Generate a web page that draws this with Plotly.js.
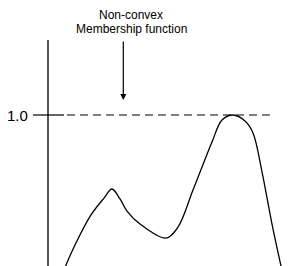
<!DOCTYPE html>
<html>
<head>
<meta charset="utf-8">
<script src="https://cdn.plot.ly/plotly-3.0.1.min.js"></script>
<style>html,body{margin:0;padding:0;background:#fff;}#chart{width:301px;height:266px;}</style>
</head>
<body>
<div id="chart"></div>
<script>
// Membership curve (x: universe of discourse, y: membership degree)
const curveX = [15, 27, 43, 56, 64, 72, 79, 92, 118, 130, 145, 164, 174, 185, 197, 205, 214, 224, 235];
const curveY = [-0.040, 0.139, 0.338, 0.450, 0.510, 0.444, 0.364, 0.278, 0.185, 0.258, 0.503, 0.821, 0.967, 1.0, 0.960, 0.881, 0.623, 0.278, -0.060];
const tickValue = 1.0;
const tickLabel = "1.0";
const titleLines = ["Non-convex", "Membership function"];

const data = [{
  x: curveX, y: curveY, type: 'scatter', mode: 'lines',
  line: {color: '#000', width: 1.3, shape: 'spline', smoothing: 1},
  hoverinfo: 'skip'
}];

const font = {family: 'Liberation Sans, Arial, sans-serif', color: '#000'};

const layout = {
  width: 301, height: 266,
  margin: {l: 0, r: 0, t: 0, b: 0},
  paper_bgcolor: '#fff', plot_bgcolor: '#fff',
  showlegend: false,
  xaxis: {range: [-48, 253], visible: false, fixedrange: true},
  yaxis: {range: [0, 266/151], visible: false, fixedrange: true},
  shapes: [
    {type: 'line', xref: 'x', yref: 'y', x0: 0, x1: 0, y0: -0.1, y1: 1.497, line: {color: '#555', width: 2}},
    {type: 'line', xref: 'x', yref: 'y', x0: -15, x1: 16, y0: tickValue, y1: tickValue, line: {color: '#000', width: 1.2}},
    {type: 'line', xref: 'x', yref: 'y', x0: 19, x1: 224, y0: tickValue, y1: tickValue, line: {color: '#000', width: 1.2, dash: '8px,5px'}}
  ],
  annotations: [
    {xref: 'x', yref: 'y', x: -18.5, y: tickValue, xanchor: 'right', yanchor: 'middle', text: tickLabel, showarrow: false, font: Object.assign({size: 15}, font)},
    {xref: 'x', yref: 'y', x: 83, y: (266-14.5)/151, xanchor: 'center', yanchor: 'middle', text: titleLines[0], showarrow: false, borderpad: 0, font: Object.assign({size: 12}, font)},
    {xref: 'x', yref: 'y', x: 83, y: (266-28.5)/151, xanchor: 'center', yanchor: 'middle', text: titleLines[1], showarrow: false, borderpad: 0, font: Object.assign({size: 12}, font)},
    {xref: 'x', yref: 'y', x: 75.3, y: (266-100)/151, axref: 'x', ayref: 'y', ax: 75.3, ay: (266-40)/151, text: '', showarrow: true, arrowhead: 2, arrowsize: 1, arrowwidth: 1.2, arrowcolor: '#000', standoff: 0}
  ]
};

Plotly.newPlot('chart', data, layout, {displayModeBar: false, staticPlot: true});
</script>
</body>
</html>
